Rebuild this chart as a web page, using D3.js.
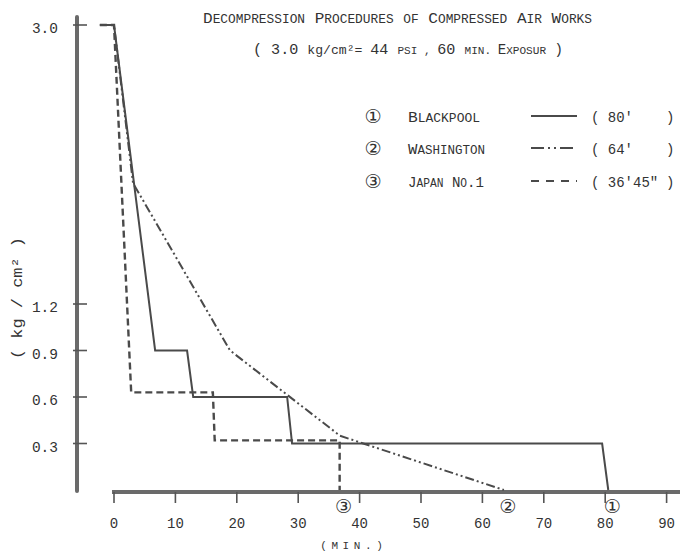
<!DOCTYPE html>
<html><head><meta charset="utf-8">
<script src="https://cdn.jsdelivr.net/npm/d3@7"></script>
<style>
html,body{margin:0;padding:0;background:#fff;}
svg{display:block;}
text{font-family:"Liberation Mono","DejaVu Sans Mono",monospace;fill:#333;}
</style></head>
<body>
<script>
// ---- data ----
const titleText = "Decompression Procedures of Compressed Air Works";
const xTicks = [0,10,20,30,40,50,60,70,80,90];
const yTicks = [0.3,0.6,0.9,1.2,3.0];
const seriesNames = ["Blackpool","Washington","Japan No.1"];
const seriesMarks = ["\u2460","\u2461","\u2462"];
const seriesTotals = ["( 80'", "( 64'", "( 36'45\""];
const blackpoolTime = [-2.3, 0, 6.7, 11.9, 12.9, 28.2, 29, 79.5, 80.5];
const blackpoolPress = [3.0, 3.0, 0.9, 0.9, 0.6, 0.6, 0.3, 0.3, 0];
const washingtonTime = [-2.3, 0, 3.1, 18.9, 36.8, 63.5];
const washingtonPress = [3.0, 3.0, 1.98, 0.9, 0.35, 0];
const japanTime = [-2.3, 0, 2.8, 16.1, 16.4, 36.75, 36.75];
const japanPress = [3.0, 3.0, 0.63, 0.63, 0.32, 0.32, 0];
const endTimes = [80.5, 63.5, 36.75];

const W = 680, H = 552;
const svg = d3.select("body").append("svg").attr("width", W).attr("height", H);
const x = d3.scaleLinear().domain([0, 90]).range([114, 666.6]);
const y = d3.scaleLinear().domain([0, 3]).range([490, 25]);
const ink = "#4a4a4a";
const dashes = [null, "9,3,2,3,2,3", "7,4"];

// typewriter-like small caps: capitals big, lowercase as smaller capitals
function smallCaps(sel, str, big, small) {
  const parts = str.match(/([a-z]+|[^a-z]+)/g);
  parts.forEach(p => {
    const isLow = /^[a-z]+$/.test(p);
    sel.append("tspan").style("font-size", (isLow ? small : big) + "px")
      .text(isLow ? p.toUpperCase() : p);
  });
  return sel;
}

// title
const tt = svg.append("text").attr("x", 203).attr("y", 23)
  .attr("textLength", 389).attr("lengthAdjust", "spacingAndGlyphs");
smallCaps(tt, titleText, 15, 12);
const sub = svg.append("text").attr("x", 253).attr("y", 54)
  .attr("textLength", 310).attr("lengthAdjust", "spacingAndGlyphs");
sub.append("tspan").style("font-size", "15px").text("( 3.0 ");
sub.append("tspan").style("font-size", "13px").text("kg/cm\u00b2= ");
sub.append("tspan").style("font-size", "15px").text("44 ");
sub.append("tspan").style("font-size", "11px").text("PSI , ");
sub.append("tspan").style("font-size", "15px").text("60 ");
sub.append("tspan").style("font-size", "11px").text("MIN. ");
smallCaps(sub.append("tspan"), "Exposur", 14, 11);
sub.append("tspan").style("font-size", "14px").text(" )");

// y axis
svg.append("line").attr("x1", 77).attr("x2", 77).attr("y1", 17).attr("y2", 491)
  .attr("stroke", "#6a6a6a").attr("stroke-width", 4).attr("stroke-linecap", "round");
const yg = svg.append("g");
yg.selectAll("line").data(yTicks).join("line")
  .attr("x1", 73).attr("x2", 87).attr("y1", d => y(d)).attr("y2", d => y(d))
  .attr("stroke", "#555").attr("stroke-width", 1.6);
yg.selectAll("text").data(yTicks).join("text")
  .attr("x", 58).attr("y", d => y(d) + 8).attr("text-anchor", "end")
  .style("font-size", "14.5px").text(d => d3.format(".1f")(d));
svg.append("text").attr("transform", "translate(22,298) rotate(-90)")
  .attr("text-anchor", "middle").style("font-size", "14px")
  .attr("textLength", 122).attr("lengthAdjust", "spacingAndGlyphs")
  .text("( kg / cm\u00b2 )");

// x axis
svg.append("line").attr("x1", x(0) - 2).attr("x2", W).attr("y1", 492).attr("y2", 492)
  .attr("stroke", "#6a6a6a").attr("stroke-width", 4);
const xg = svg.append("g");
xg.selectAll("line").data(xTicks).join("line")
  .attr("x1", d => x(d)).attr("x2", d => x(d)).attr("y1", 492).attr("y2", 503)
  .attr("stroke", "#555").attr("stroke-width", 1.6);
xg.selectAll("text").data(xTicks).join("text")
  .attr("x", d => x(d)).attr("y", 528).attr("text-anchor", "middle")
  .style("font-size", "14px").text(d => d);
svg.append("text").attr("x", 351).attr("y", 549).attr("text-anchor", "middle")
  .style("font-size", "11px").style("letter-spacing", "-1px")
  .text("( M I N . )");

// series
const series = [
  {t: blackpoolTime, p: blackpoolPress},
  {t: washingtonTime, p: washingtonPress},
  {t: japanTime, p: japanPress}
];
const line = d3.line().x(d => x(d[0])).y(d => y(d[1]));
series.forEach((s, i) => {
  const pts = s.t.map((t, k) => [t, s.p[k]]);
  svg.append("path").attr("d", line(pts)).attr("fill", "none")
    .attr("stroke", ink).attr("stroke-width", i === 2 ? 2.4 : 2)
    .attr("stroke-dasharray", dashes[i]).attr("stroke-linejoin", "miter");
});

// end markers on x axis
svg.selectAll("text.endmark").data(endTimes).join("text").attr("class", "endmark")
  .attr("x", (d) => x(d) + 4).attr("y", 513).attr("text-anchor", "middle")
  .style("font-family", "DejaVu Sans").style("font-size", "19px")
  .text((d, i) => seriesMarks[i]);

// legend
const rowY = [116, 148, 181];
seriesNames.forEach((n, i) => {
  const yy = rowY[i];
  svg.append("text").attr("x", 373).attr("y", yy + 7).attr("text-anchor", "middle")
    .style("font-family", "DejaVu Sans").style("font-size", "19px").text(seriesMarks[i]);
  const lt = svg.append("text").attr("x", 408).attr("y", yy + 6)
    .attr("textLength", [72, 77, 76][i]).attr("lengthAdjust", "spacingAndGlyphs");
  smallCaps(lt, n, 15, 12);
  svg.append("line").attr("x1", 531).attr("x2", 577).attr("y1", yy).attr("y2", yy)
    .attr("stroke", ink).attr("stroke-width", 2.2)
    .attr("stroke-dasharray", i === 1 ? "13,4,2,4,2,4" : (i === 2 ? "8,7" : null));
  svg.append("text").attr("x", 591).attr("y", yy + 6).style("font-size", "14px").text(seriesTotals[i]);
  svg.append("text").attr("x", 666).attr("y", yy + 6).style("font-size", "14px").text(")");
});
</script>
</body></html>
